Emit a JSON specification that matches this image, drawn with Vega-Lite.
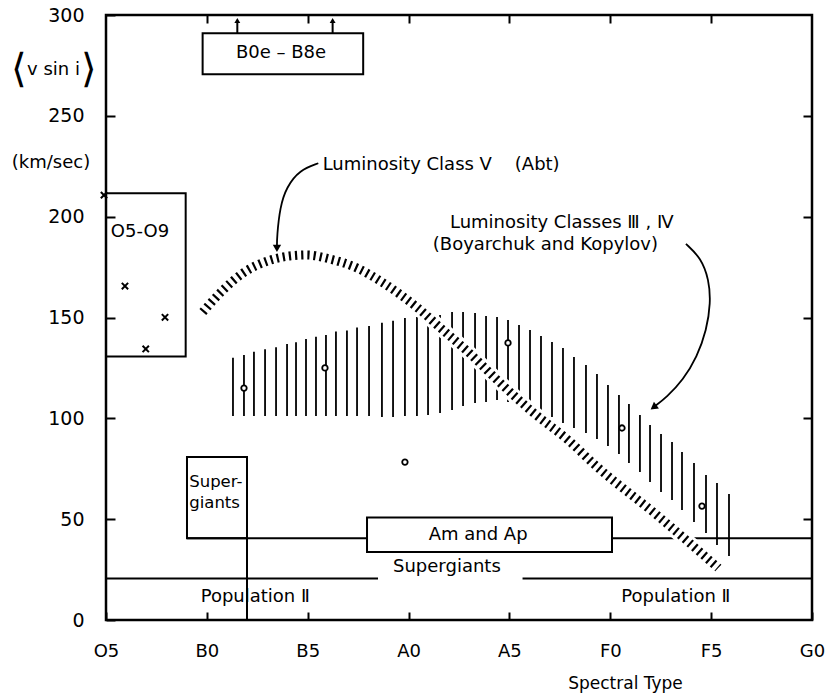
{
  "$schema": "https://vega.github.io/schema/vega-lite/v6.json",
  "width": 706,
  "height": 605,
  "autosize": {"type": "none"},
  "padding": {"left": 106, "top": 15, "right": 17, "bottom": 76},
  "background": "white",
  "config": {
    "view": {"stroke": "black", "strokeWidth": 2.5},
    "font": "DejaVu Sans",
    "axis": {"grid": false, "domain": false, "tickColor": "black", "tickWidth": 2, "labelColor": "black", "titleColor": "black", "labelFont": "DejaVu Sans", "titleFont": "DejaVu Sans", "labelFlush": false, "labelOverlap": false}
  },
  "resolve": {"axis": {"x": "independent", "y": "independent"}},
  "datasets": {
    "vband": [
      {"x": 12.59, "lo": 101.2, "hi": 130.1}, {"x": 13.68, "lo": 101.2, "hi": 131.4}, {"x": 14.67, "lo": 101.2, "hi": 133.0},
      {"x": 15.77, "lo": 101.2, "hi": 134.2}, {"x": 16.86, "lo": 101.2, "hi": 135.2}, {"x": 17.95, "lo": 101.2, "hi": 136.9},
      {"x": 18.84, "lo": 101.2, "hi": 137.7}, {"x": 19.83, "lo": 101.2, "hi": 139.3}, {"x": 20.82, "lo": 101.2, "hi": 140.5},
      {"x": 21.81, "lo": 101.2, "hi": 141.3}, {"x": 22.80, "lo": 101.2, "hi": 143.0}, {"x": 23.89, "lo": 101.2, "hi": 143.6},
      {"x": 24.89, "lo": 101.2, "hi": 145.1}, {"x": 26.08, "lo": 101.2, "hi": 145.8}, {"x": 27.36, "lo": 100.7, "hi": 147.4},
      {"x": 28.46, "lo": 100.7, "hi": 148.4}, {"x": 29.64, "lo": 101.2, "hi": 149.7}, {"x": 30.83, "lo": 101.2, "hi": 150.2},
      {"x": 31.93, "lo": 101.7, "hi": 150.7}, {"x": 33.12, "lo": 102.6, "hi": 151.2}, {"x": 34.31, "lo": 104.1, "hi": 152.7},
      {"x": 35.40, "lo": 106.1, "hi": 152.7}, {"x": 36.59, "lo": 107.6, "hi": 152.2}, {"x": 37.68, "lo": 108.1, "hi": 150.7},
      {"x": 38.77, "lo": 109.1, "hi": 150.2}, {"x": 39.86, "lo": 108.1, "hi": 148.8}, {"x": 40.95, "lo": 105.6, "hi": 146.3},
      {"x": 42.04, "lo": 104.1, "hi": 143.8}, {"x": 43.13, "lo": 103.1, "hi": 140.8}, {"x": 44.22, "lo": 100.7, "hi": 137.9},
      {"x": 45.31, "lo": 97.7, "hi": 134.9}, {"x": 46.40, "lo": 95.2, "hi": 130.4}, {"x": 47.59, "lo": 92.7, "hi": 126.4},
      {"x": 48.68, "lo": 89.8, "hi": 122.0}, {"x": 49.77, "lo": 86.3, "hi": 116.5}, {"x": 50.86, "lo": 82.3, "hi": 111.6},
      {"x": 51.85, "lo": 77.8, "hi": 107.1}, {"x": 52.94, "lo": 73.4, "hi": 101.7}, {"x": 53.94, "lo": 68.4, "hi": 96.7},
      {"x": 55.03, "lo": 63.5, "hi": 92.2}, {"x": 56.12, "lo": 59.5, "hi": 88.3}, {"x": 57.11, "lo": 54.5, "hi": 83.3},
      {"x": 58.30, "lo": 48.6, "hi": 77.8}, {"x": 59.49, "lo": 43.1, "hi": 71.9}, {"x": 60.58, "lo": 37.2, "hi": 67.9},
      {"x": 61.77, "lo": 31.7, "hi": 62.5}
    ],
    "abt": [
      {"x": 9.6, "y": 152.7}, {"x": 11.6, "y": 163.6}, {"x": 13.6, "y": 172.1}, {"x": 16.0, "y": 178.0},
      {"x": 18.2, "y": 180.5}, {"x": 19.9, "y": 181.0}, {"x": 22.2, "y": 179.0}, {"x": 24.9, "y": 174.5},
      {"x": 27.5, "y": 167.1}, {"x": 30.8, "y": 155.2}, {"x": 33.4, "y": 143.8}, {"x": 35.8, "y": 133.4},
      {"x": 39.1, "y": 117.5}, {"x": 42.3, "y": 103.1}, {"x": 45.8, "y": 89.3}, {"x": 48.7, "y": 75.9},
      {"x": 54.6, "y": 52.1}, {"x": 60.7, "y": 25.8}
    ],
    "boxes": [
      {"name": "O5-O9", "x": 0, "x2": 7.9, "y": 130.6, "y2": 211.6},
      {"name": "B0e-B8e", "x": 9.58, "x2": 25.5, "y": 270.6, "y2": 290.9},
      {"name": "Supergiants", "x": 8.03, "x2": 13.98, "y": 40.5, "y2": 80.8}
    ],
    "ambox": [
      {"name": "Am and Ap", "x": 25.88, "x2": 50.17, "y": 33.7, "y2": 50.8}
    ],
    "segments": [
      {"x": 8.03, "x2": 25.88, "y": 40.5, "y2": 40.5},
      {"x": 50.17, "x2": 70, "y": 40.5, "y2": 40.5},
      {"x": 0, "x2": 26.97, "y": 20.6, "y2": 20.6},
      {"x": 41.3, "x2": 70, "y": 20.6, "y2": 20.6},
      {"x": 13.98, "x2": 13.98, "y": 0, "y2": 40.5},
      {"x": 13.02, "x2": 13.02, "y": 290.9, "y2": 297},
      {"x": 22.47, "x2": 22.47, "y": 290.9, "y2": 297}
    ],
    "crosses": [
      {"x": -0.2, "y": 210.7}, {"x": 1.88, "y": 165.6}, {"x": 5.85, "y": 150.1}, {"x": 3.94, "y": 134.4}
    ],
    "circles": [
      {"x": 13.68, "y": 115.0}, {"x": 21.71, "y": 125.0}, {"x": 39.86, "y": 137.4},
      {"x": 51.16, "y": 95.2}, {"x": 29.64, "y": 78.3}, {"x": 59.09, "y": 56.5}
    ],
    "arrows": [
      {"g": "a", "i": 1, "x": 21.05, "y": 226.5}, {"g": "a", "i": 2, "x": 19.2, "y": 223.1},
      {"g": "a", "i": 3, "x": 17.9, "y": 214.7}, {"g": "a", "i": 4, "x": 17.25, "y": 204.8},
      {"g": "a", "i": 5, "x": 16.95, "y": 190.0}, {"g": "a", "i": 6, "x": 16.95, "y": 185.0},
      {"g": "b", "i": 1, "x": 57.5, "y": 186.5}, {"g": "b", "i": 2, "x": 59.0, "y": 179.5},
      {"g": "b", "i": 3, "x": 59.79, "y": 168.6}, {"g": "b", "i": 4, "x": 59.95, "y": 157.2},
      {"g": "b", "i": 5, "x": 59.55, "y": 143.8}, {"g": "b", "i": 6, "x": 58.6, "y": 130.4},
      {"g": "b", "i": 7, "x": 57.21, "y": 119.0}, {"g": "b", "i": 8, "x": 55.62, "y": 110.6},
      {"g": "b", "i": 9, "x": 54.29, "y": 105.5}
    ],
    "heads": [
      {"x": 16.95, "y": 184.3, "angle": 180, "s": 70},
      {"x": 54.29, "y": 105.5, "angle": 233, "s": 70},
      {"x": 13.02, "y": 297.3, "angle": 0, "s": 35},
      {"x": 22.47, "y": 297.3, "angle": 0, "s": 35}
    ],
    "textLeft": [
      {"x": 21.48, "y": 225.6, "t": "Luminosity Class Ⅴ\u00a0\u00a0\u00a0\u00a0(Abt)", "fs": 18},
      {"x": 34.1, "y": 197.0, "t": "Luminosity Classes Ⅲ , Ⅳ", "fs": 18},
      {"x": 32.4, "y": 186.0, "t": "(Boyarchuk and Kopylov)", "fs": 18},
      {"x": 8.25, "y": 68.4, "t": "Super-", "fs": 16.5},
      {"x": 8.25, "y": 58.0, "t": "giants", "fs": 16.5}
    ],
    "textCenter": [
      {"x": 3.37, "y": 192.4, "t": "O5-O9"},
      {"x": 17.35, "y": 281.2, "t": "B0e – B8e"},
      {"x": 36.9, "y": 42.1, "t": "Am and Ap"},
      {"x": 33.8, "y": 26.3, "t": "Supergiants"},
      {"x": 14.8, "y": 11.4, "t": "Population Ⅱ"},
      {"x": 56.5, "y": 11.4, "t": "Population Ⅱ"},
      {"x": -5.2, "y": 272.7, "t": "v sin i"},
      {"x": -5.45, "y": 226.6, "t": "(km/sec)"}
    ],
    "brackets": [
      {"x": -8.6, "y": 272.7, "t": "⟨"},
      {"x": -1.7, "y": 272.7, "t": "⟩"}
    ]
  },
  "layer": [
    {
      "data": {"name": "vband"},
      "mark": {"type": "rule", "color": "black", "strokeWidth": 1.8},
      "encoding": {
        "x": {"field": "x", "type": "quantitative", "scale": {"domain": [0, 70], "nice": false, "zero": false},
          "axis": {"orient": "bottom", "values": [0, 10, 20, 30, 40, 50, 60, 70], "labelExpr": "['O5','B0','B5','A0','A5','F0','F5','G0'][round(datum.value/10)]", "tickSize": -8, "labelPadding": 30, "labelFontSize": 18, "title": "Spectral Type", "titleFontSize": 17, "titleFontWeight": "normal", "titleX": 519, "titleY": 63, "titleAlign": "center", "titleBaseline": "middle", "titleAnchor": null}},
        "y": {"field": "lo", "type": "quantitative", "scale": {"domain": [0, 300], "nice": false, "zero": false},
          "axis": {"orient": "left", "values": [0, 50, 100, 150, 200, 250, 300], "tickSize": -9, "labelPadding": 31, "labelFontSize": 19, "title": null}},
        "y2": {"field": "hi"}
      }
    },
    {
      "data": {"name": "boxes"},
      "mark": {"type": "rect", "fill": null, "fillOpacity": 0, "stroke": "black", "strokeWidth": 2},
      "encoding": {
        "x": {"field": "x", "type": "quantitative", "axis": {"orient": "top", "values": [10, 20, 30, 40, 50, 60], "tickSize": -8, "labels": false, "title": null}},
        "x2": {"field": "x2"},
        "y": {"field": "y", "type": "quantitative", "axis": {"orient": "right", "values": [50, 100, 150, 200, 250], "tickSize": -9, "labels": false, "title": null}},
        "y2": {"field": "y2"}
      }
    },
    {
      "data": {"name": "ambox"},
      "mark": {"type": "rect", "fill": "white", "stroke": "black", "strokeWidth": 2},
      "encoding": {
        "x": {"field": "x", "type": "quantitative", "axis": null},
        "x2": {"field": "x2"},
        "y": {"field": "y", "type": "quantitative", "axis": null},
        "y2": {"field": "y2"}
      }
    },
    {
      "data": {"name": "segments"},
      "mark": {"type": "rule", "color": "black", "strokeWidth": 2},
      "encoding": {
        "x": {"field": "x", "type": "quantitative", "axis": null},
        "x2": {"field": "x2"},
        "y": {"field": "y", "type": "quantitative", "axis": null},
        "y2": {"field": "y2"}
      }
    },
    {
      "data": {"name": "abt"},
      "mark": {"type": "line", "color": "white", "strokeWidth": 15, "interpolate": "monotone"},
      "encoding": {
        "x": {"field": "x", "type": "quantitative", "axis": null},
        "y": {"field": "y", "type": "quantitative", "axis": null}
      }
    },
    {
      "data": {"name": "abt"},
      "mark": {"type": "line", "color": "black", "strokeWidth": 9, "strokeDash": [2.2, 4], "interpolate": "monotone"},
      "encoding": {
        "x": {"field": "x", "type": "quantitative", "axis": null},
        "y": {"field": "y", "type": "quantitative", "axis": null}
      }
    },
    {
      "data": {"name": "circles"},
      "mark": {"type": "point", "shape": "circle", "filled": false, "fill": "white", "fillOpacity": 1, "stroke": "black", "strokeWidth": 1.8, "size": 30, "opacity": 1},
      "encoding": {
        "x": {"field": "x", "type": "quantitative", "axis": null},
        "y": {"field": "y", "type": "quantitative", "axis": null}
      }
    },
    {
      "data": {"name": "crosses"},
      "mark": {"type": "point", "shape": "M-1,-1L1,1M-1,1L1,-1", "filled": false, "stroke": "black", "strokeWidth": 2, "size": 40, "opacity": 1},
      "encoding": {
        "x": {"field": "x", "type": "quantitative", "axis": null},
        "y": {"field": "y", "type": "quantitative", "axis": null}
      }
    },
    {
      "data": {"name": "arrows"},
      "mark": {"type": "line", "color": "black", "strokeWidth": 1.8, "interpolate": "basis"},
      "encoding": {
        "x": {"field": "x", "type": "quantitative", "axis": null},
        "y": {"field": "y", "type": "quantitative", "axis": null},
        "detail": {"field": "g"},
        "order": {"field": "i", "type": "quantitative"}
      }
    },
    {
      "data": {"name": "heads"},
      "mark": {"type": "point", "shape": "triangle-up", "filled": true, "color": "black", "opacity": 1},
      "encoding": {
        "x": {"field": "x", "type": "quantitative", "axis": null},
        "y": {"field": "y", "type": "quantitative", "axis": null},
        "angle": {"field": "angle", "type": "quantitative", "scale": null},
        "size": {"field": "s", "type": "quantitative", "scale": null}
      }
    },
    {
      "data": {"name": "textLeft"},
      "mark": {"type": "text", "align": "left", "baseline": "middle", "font": "DejaVu Sans", "color": "black"},
      "encoding": {
        "x": {"field": "x", "type": "quantitative", "axis": null},
        "y": {"field": "y", "type": "quantitative", "axis": null},
        "size": {"field": "fs", "type": "quantitative", "scale": null, "legend": null},
        "text": {"field": "t"}
      }
    },
    {
      "data": {"name": "textCenter"},
      "mark": {"type": "text", "align": "center", "baseline": "middle", "fontSize": 18, "font": "DejaVu Sans", "color": "black"},
      "encoding": {
        "x": {"field": "x", "type": "quantitative", "axis": null},
        "y": {"field": "y", "type": "quantitative", "axis": null},
        "text": {"field": "t"}
      }
    },
    {
      "data": {"name": "brackets"},
      "mark": {"type": "text", "align": "center", "baseline": "middle", "fontSize": 40, "font": "DejaVu Sans", "fontWeight": 200, "color": "black"},
      "encoding": {
        "x": {"field": "x", "type": "quantitative", "axis": null},
        "y": {"field": "y", "type": "quantitative", "axis": null},
        "text": {"field": "t"}
      }
    }
  ]
}
